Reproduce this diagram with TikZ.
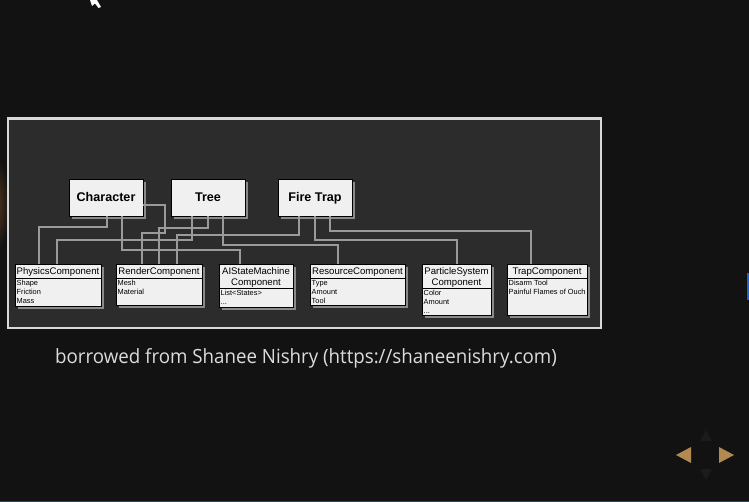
\documentclass[tikz,border=0pt]{standalone}
\usepackage{fontspec}
\setmainfont{Liberation Sans}
\newfontfamily\capfont{Open Sans}[FakeStretch=0.955]
\usetikzlibrary{fit,shadows,calc}
\definecolor{bgc}{HTML}{121212}
\definecolor{panelc}{HTML}{2C2C2C}
\definecolor{panelb}{HTML}{D8D8D8}
\definecolor{boxfill}{HTML}{F0F0F0}
\definecolor{shadowc}{HTML}{8A8A8A}
\definecolor{connc}{HTML}{9A9A9A}
\definecolor{goldc}{HTML}{B08A50}
\definecolor{capc}{HTML}{DCDCDC}
\definecolor{bluec}{HTML}{1E64C8}
\definecolor{glowc}{HTML}{5A3A1E}
\definecolor{faintc}{HTML}{1B1B1B}
\begin{document}
\begin{tikzpicture}[x=1pt,y=-1pt,
  boxshadow/.style={drop shadow={shadow xshift=3pt, shadow yshift=-3pt, fill=shadowc, opacity=1}},
  topbox/.style={draw=black, line width=0.8pt, fill=boxfill, inner sep=0pt, boxshadow},
  toptext/.style={inner sep=0pt, anchor=base, font=\bfseries\fontsize{12.6}{14}\selectfont},
  compbox/.style={draw=black, line width=0.8pt, fill=boxfill, inner sep=0pt, boxshadow},
  comptitle/.style={inner sep=0pt, anchor=base, font=\fontsize{9.6}{11}\selectfont},
  attr/.style={inner sep=0pt, anchor=base west, font=\fontsize{7.4}{8.7}\selectfont},
  sepline/.style={draw=black, line width=0.8pt},
  conn/.style={draw=connc, line width=1.4pt},
  caption/.style={inner sep=0pt, anchor=base west, text=capc, font=\capfont\fontsize{19.6}{22}\selectfont},
  navtri/.style={fill=goldc}
]
\useasboundingbox (0,0) rectangle (749,502);
\clip (0,0) rectangle (749,502);
\fill[bgc] (0,0) rectangle (749,502);
% glow at left edge
\shade[inner color=glowc, outer color=bgc] (-6,205) ellipse (16 and 48);
% blue bars
\fill[bluec] (746.5,273) rectangle (749,300);
\fill[bluec!70!black] (0,500.5) rectangle (749,502);
% mouse cursor
\fill[white] (90,0) -- (97,0) -- (101,7) -- (98.5,8) -- (95,3.5) -- (92,6) -- cycle;

% panel
\node[draw=panelb, line width=2.5pt, fill=panelc, inner sep=0pt, fit={(8,118.5)(601,328)}] (panel) {};

% top boxes
\node[topbox, fit={(69,179)(143,216)}] (char) {};
\node[topbox, fit={(171,179)(245,216)}] (tree) {};
\node[topbox, fit={(278,179)(352,216)}] (fire) {};
\node[toptext] (charT) at (106,202) {Character};
\node[toptext] (treeT) at (208,202) {Tree};
\node[toptext] (fireT) at (315,202) {Fire Trap};

% component boxes
\node[compbox, fit={(15,264)(101,306)}] (phys) {};
\node[compbox, fit={(116,264)(202,305)}] (rend) {};
\node[compbox, fit={(219,264)(293,307)}] (ai) {};
\node[compbox, fit={(310,264)(405,305)}] (res) {};
\node[compbox, fit={(422,264)(491,315)}] (part) {};
\node[compbox, fit={(507,264)(587,315)}] (trap) {};

% separators
\draw[sepline] (phys.west |- 0,278) -- (phys.east |- 0,278);
\draw[sepline] (rend.west |- 0,278) -- (rend.east |- 0,278);
\draw[sepline] (ai.west |- 0,288) -- (ai.east |- 0,288);
\draw[sepline] (res.west |- 0,278) -- (res.east |- 0,278);
\draw[sepline] (part.west |- 0,288) -- (part.east |- 0,288);
\draw[sepline] (trap.west |- 0,278) -- (trap.east |- 0,278);

% titles
\node[comptitle] (physT) at (58,274.5) {PhysicsComponent};
\node[comptitle] (rendT) at (159,274.5) {RenderComponent};
\node[comptitle] (aiT1) at (256,274.5) {AIStateMachine};
\node[comptitle] (aiT2) at (256,285.3) {Component};
\node[comptitle] (resT) at (357.5,274.5) {ResourceComponent};
\node[comptitle] (partT1) at (456.5,274.5) {ParticleSystem};
\node[comptitle] (partT2) at (456.5,285.3) {Component};
\node[comptitle] (trapT) at (547,274.5) {TrapComponent};

% attributes
\node[attr] (pa1) at (16.5,286) {Shape};
\node[attr] (pa2) at (16.5,294.7) {Friction};
\node[attr] (pa3) at (16.5,303.4) {Mass};
\node[attr] (ra1) at (117.5,286) {Mesh};
\node[attr] (ra2) at (117.5,294.7) {Material};
\node[attr] (aa1) at (220.5,296) {List<States>};
\node[attr] (aa2) at (220.5,304.5) {...};
\node[attr] (sa1) at (311.5,286) {Type};
\node[attr] (sa2) at (311.5,294.7) {Amount};
\node[attr] (sa3) at (311.5,303.4) {Tool};
\node[attr] (ca1) at (423.5,296) {Color};
\node[attr] (ca2) at (423.5,304.7) {Amount};
\node[attr] (ca3) at (423.5,313.2) {...};
\node[attr] (ta1) at (508.5,286) {Disarm Tool};
\node[attr] (ta2) at (508.5,294.7) {Painful Flames of Ouch};

% connectors
\draw[conn] (char.south -| 107,0) |- (39,227) -- (phys.north -| 39,0);
\draw[conn] (char.south -| 122,0) |- (240,250) -- (ai.north -| 240,0);
\draw[conn] (char.east |- 0,205) -| (165,233) -| (rend.north -| 142,0);
\draw[conn] (tree.south -| 192,0) |- (57,240) -- (phys.north -| 57,0);
\draw[conn] (tree.south -| 208,0) |- (159,228) -- (rend.north -| 159,0);
\draw[conn] (tree.south -| 223,0) |- (338,245) -- (res.north -| 338,0);
\draw[conn] (fire.south -| 299,0) |- (177,235) -- (rend.north -| 177,0);
\draw[conn] (fire.south -| 315,0) |- (457,240) -- (part.north -| 457,0);
\draw[conn] (fire.south -| 330,0) |- (531,231) -- (trap.north -| 531,0);

% caption
\node[caption] (cap) at (55,363) {borrowed from Shanee Nishry (https://shaneenishry.com)};

% navigation
\fill[faintc] (706,430) -- (700,441) -- (712,441) -- cycle;
\fill[faintc] (706,480) -- (700,469) -- (712,469) -- cycle;
\coordinate (navL) at (676,455);
\coordinate (navR) at (734,455);
\fill[navtri] (navL) -- ++(15,-8) -- ++(0,16) -- cycle;
\fill[navtri] (navR) -- ++(-15,-8) -- ++(0,16) -- cycle;
\end{tikzpicture}
\end{document}
